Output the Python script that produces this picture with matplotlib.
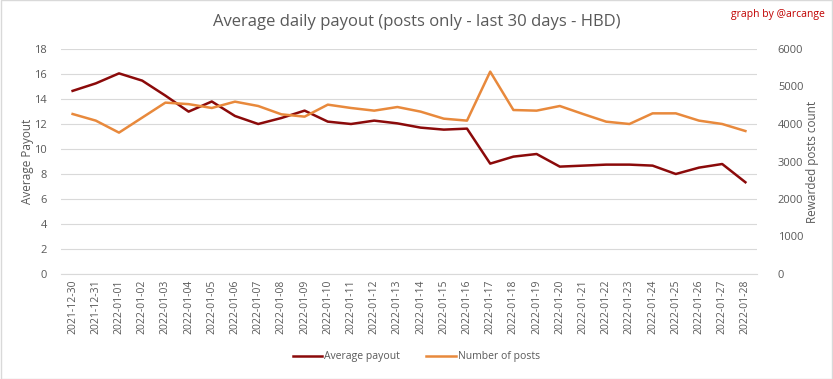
import matplotlib.pyplot as plt
import numpy as np

dates = ["2021-12-30", "2021-12-31"] + ["2022-01-%02d" % d for d in range(1, 29)]

avg_payout = [14.65, 15.25, 16.05, 15.47, 14.27, 12.99, 13.8, 12.64, 12.0, 12.48,
              13.07, 12.19, 12.0, 12.27, 12.05, 11.71, 11.55, 11.63, 8.83, 9.39,
              9.6, 8.59, 8.67, 8.75, 8.75, 8.67, 8.0, 8.51, 8.8, 7.34]

num_posts = [4267, 4090, 3770, 4170, 4570, 4530, 4427, 4596, 4480, 4258,
             4196, 4516, 4427, 4356, 4453, 4330, 4142, 4090, 5396, 4373,
             4356, 4480, 4267, 4062, 4000, 4284, 4284, 4090, 4000, 3813]

plt.rcParams['font.family'] = ['Open Sans', 'DejaVu Sans']
grey = '#595959'

fig = plt.figure(figsize=(8.33, 3.79), dpi=100)
ax = fig.add_axes([61 / 833, 1 - 274 / 379, (757 - 61) / 833, 225 / 379])
ax2 = ax.twinx()

x = np.arange(len(dates))
l1, = ax.plot(x, avg_payout, color='#8b0a0a', lw=1.8, label='Average payout')
l2, = ax2.plot(x, num_posts, color='#e8893c', lw=1.8, label='Number of posts')

ax.set_xlim(-0.5, len(dates) - 0.5)
ax.set_ylim(0, 18)
ax.set_yticks(range(0, 19, 2))
ax2.set_ylim(0, 6000)
ax2.set_yticks(range(0, 6001, 1000))
ax.set_xticks(x)
ax.set_xticklabels(dates, rotation=90, fontsize=7.5, color=grey)
ax.tick_params(axis='y', labelsize=8, colors=grey, length=0, pad=10)
ax2.tick_params(axis='y', labelsize=8, colors=grey, length=0, pad=15)
ax.tick_params(axis='x', length=0, pad=4)
ax.grid(axis='y', color='#d9d9d9', lw=0.8)
ax.set_axisbelow(True)
for a in (ax, ax2):
    for s in a.spines.values():
        s.set_visible(False)
ax.spines['bottom'].set_visible(True)
ax.spines['bottom'].set_color('#d9d9d9')

ax.set_ylabel('Average Payout', fontsize=8.5, color=grey)
ax.yaxis.set_label_coords(-27 / 696, 0.5)
ax2.set_ylabel('Rewarded posts count', fontsize=8.5, color=grey, labelpad=2)

fig.text(0.5, 1 - 22 / 379, 'Average daily payout (posts only - last 30 days - HBD)',
         ha='center', va='center', fontsize=12, color=grey)
fig.text(1 - 8 / 833, 1 - 15 / 379, 'graph by @arcange', ha='right', va='center',
         fontsize=7.5, color='#c00000')

fig.legend(handles=[l1, l2], loc='center', bbox_to_anchor=(0.5, 1 - 357 / 379),
           ncol=2, frameon=False, fontsize=7.5, handlelength=2.8, handletextpad=0.2,
           columnspacing=2.5, labelcolor=grey)

fig.patches.append(plt.Rectangle((0.001, 0.001), 0.998, 0.998, transform=fig.transFigure,
                                 fill=False, edgecolor='#d9d9d9', lw=1))

fig.savefig('out.png', dpi=100)
